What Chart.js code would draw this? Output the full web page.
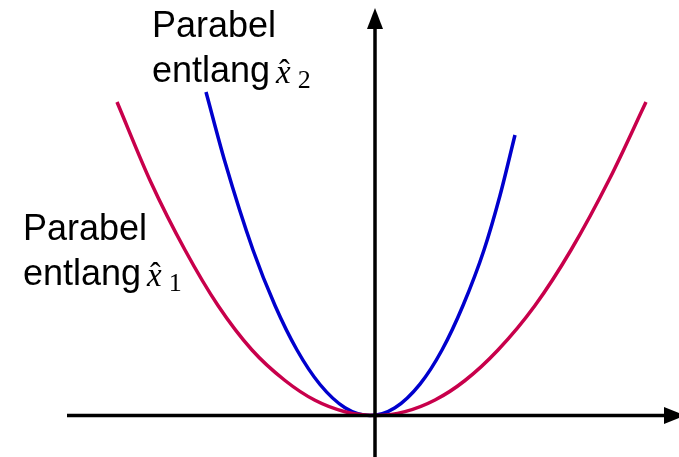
<!DOCTYPE html>
<html>
<head>
<meta charset="utf-8">
<script src="https://cdn.jsdelivr.net/npm/chart.js@4/dist/chart.umd.min.js"></script>
<style>
  body { margin: 0; background: #fff; }
  canvas { display: block; }
</style>
</head>
<body>
<canvas id="parabeln" width="679" height="457"></canvas>
<script>
// Werte (Ursprung = Schnittpunkt der Achsen)
var rotX = [-258, -224, -190, -157, -123, -90, -60, -30, 0, 30, 60, 90, 123, 160, 196, 235, 271];
var rotY = [313.5, 233, 165.5, 110, 65.5, 35, 15.2, 3.8, 0, 3.9, 15.5, 35, 65.5, 110, 165.5, 237.5, 313.5];

var blauX = [-169, -150, -122, -100, -78, -55, -30, -5, 20, 45, 67, 88, 109, 125, 140];
var blauY = [323.5, 253.5, 165.5, 110, 65.5, 31, 7.8, 0, 7.8, 31.4, 65.5, 110, 165.5, 220, 280.5];

// Achsen: Anfang und Ende der Linien (ohne Pfeilspitze)
var achseX = [-308, 289];
var achseY = [-41.5, 386.5];

var beschriftung1 = ["Parabel", "entlang", "x", "1"];
var beschriftung2 = ["Parabel", "entlang", "x", "2"];

function punkte(xs, ys) {
    return xs.map(function (x, i) { return { x: x, y: ys[i] }; });
}

// Pfeilspitzen und Beschriftungen
var extras = {
    id: "extras",
    afterDatasetsDraw: function (chart) {
        var ctx = chart.ctx;
        var sx = chart.scales.x, sy = chart.scales.y;
        ctx.save();
        ctx.fillStyle = "#000";

        // Pfeil rechts
        var bx = sx.getPixelForValue(achseX[1]), by = sy.getPixelForValue(0);
        ctx.beginPath();
        ctx.moveTo(bx, by - 8.5);
        ctx.lineTo(bx + 21, by);
        ctx.lineTo(bx, by + 8.5);
        ctx.closePath();
        ctx.fill();

        // Pfeil oben
        var ax = sx.getPixelForValue(0), ay = sy.getPixelForValue(achseY[1]);
        ctx.beginPath();
        ctx.moveTo(ax - 8, ay);
        ctx.lineTo(ax, ay - 21);
        ctx.lineTo(ax + 8, ay);
        ctx.closePath();
        ctx.fill();

        function label(txt, x, y) {
            ctx.textBaseline = "alphabetic";
            ctx.textAlign = "left";
            ctx.font = "36px 'Liberation Sans', Arial, sans-serif";
            ctx.fillText(txt[0], x, y);
            ctx.fillText(txt[1], x, y + 45);
            var w = ctx.measureText(txt[1]).width;
            var mx = x + w + 6;
            ctx.font = "italic 33px 'Liberation Serif', serif";
            ctx.fillText(txt[2], mx, y + 46);
            var xw = ctx.measureText(txt[2]).width;
            ctx.font = "32px 'Liberation Serif', serif";
            ctx.textAlign = "center";
            ctx.fillText("\u02C6", mx + xw / 2 + 1, y + 44);
            ctx.textAlign = "left";
            ctx.font = "26px 'Liberation Serif', serif";
            ctx.fillText(txt[3], mx + xw + 7, y + 51);
        }
        label(beschriftung2, 152, 37);
        label(beschriftung1, 23, 240);
        ctx.restore();
    }
};

var ctx = document.getElementById("parabeln").getContext("2d");
var chart = new Chart(ctx, {
    type: "scatter",
    data: {
        datasets: [
            {
                label: "x-Achse",
                data: punkte(achseX, [0, 0]),
                showLine: true,
                borderColor: "#000",
                borderWidth: 3.5,
                pointRadius: 0
            },
            {
                label: "y-Achse",
                data: punkte([0, 0], achseY),
                showLine: true,
                borderColor: "#000",
                borderWidth: 3.5,
                pointRadius: 0
            },
            {
                label: "Parabel entlang x1",
                data: punkte(rotX, rotY),
                showLine: true,
                borderColor: "rgb(200, 0, 75)",
                borderWidth: 3.5,
                pointRadius: 0,
                cubicInterpolationMode: "monotone"
            },
            {
                label: "Parabel entlang x2",
                data: punkte(blauX, blauY),
                showLine: true,
                borderColor: "rgb(0, 0, 205)",
                borderWidth: 3.5,
                pointRadius: 0,
                cubicInterpolationMode: "monotone"
            }
        ]
    },
    options: {
        responsive: false,
        animation: false,
        devicePixelRatio: 1,
        layout: { padding: 0 },
        plugins: {
            legend: { display: false },
            tooltip: { enabled: false }
        },
        scales: {
            x: { type: "linear", display: false, min: -375, max: 304 },
            y: { type: "linear", display: false, min: -41.5, max: 415.5 }
        }
    },
    plugins: [extras]
});
</script>
</body>
</html>
